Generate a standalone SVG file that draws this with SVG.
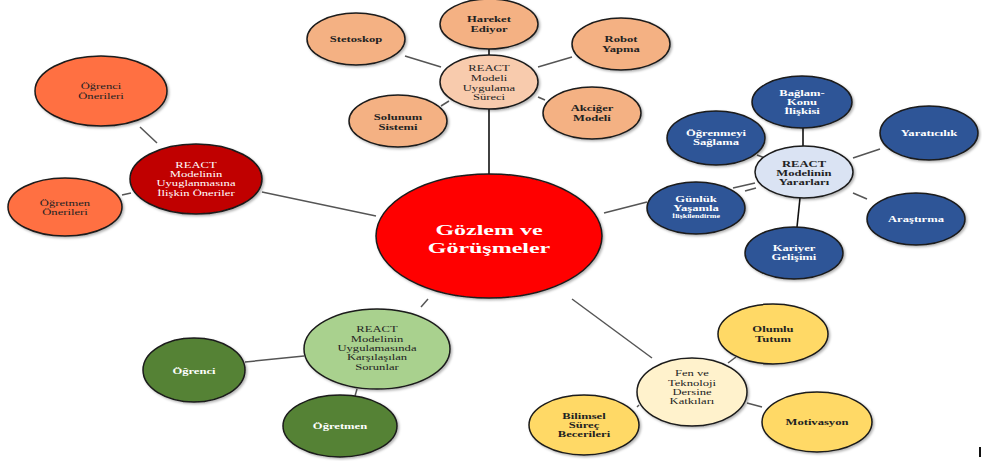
<svg xmlns="http://www.w3.org/2000/svg" width="982" height="461" viewBox="0 0 982 461">
<defs>
<filter id="sh" x="-20%" y="-20%" width="150%" height="150%">
<feDropShadow dx="1.5" dy="1.5" stdDeviation="1" flood-color="#000" flood-opacity="0.3"/>
</filter>
</defs>
<style>
ellipse{stroke:#1a1a1a;stroke-width:1.5;filter:url(#sh)}
text{font-family:"Liberation Serif","Times New Roman",serif;text-anchor:middle;dominant-baseline:central;font-size:12.6px;font-weight:bold;fill:#222;transform-box:fill-box;transform-origin:center;transform:scaleY(0.68)}
.w{fill:#fff}
.n{font-weight:normal}
.big{font-size:24px;transform:scaleY(0.64)}
.c{stroke:#555;stroke-width:1.5;fill:none}
.k{stroke:#111;stroke-width:1.6;fill:none}
.o1{fill:#F4B183}.o2{fill:#F8CBAD}
.r1{fill:#FF7043}.r2{fill:#C00000}
.b1{fill:#2F5597}.b2{fill:#DAE3F3}
.g1{fill:#548235}.g2{fill:#A9D18E}
.y1{fill:#FFD966}.y2{fill:#FFF2CC}
</style>
<g id="connectors">
<line class="k" x1="489" y1="48" x2="489" y2="56"/>
<line class="k" x1="489" y1="108" x2="489" y2="175"/>
<line class="c" x1="405" y1="56" x2="441" y2="67"/>
<line class="c" x1="538" y1="67" x2="572" y2="57"/>
<line class="c" x1="441" y1="106" x2="449" y2="101"/>
<line class="c" x1="538" y1="97" x2="545" y2="100"/>
<line class="c" x1="140" y1="127" x2="157" y2="143"/>
<line class="c" x1="122" y1="195" x2="131" y2="193"/>
<line class="c" x1="262" y1="192" x2="376" y2="216"/>
<line class="c" x1="604" y1="213" x2="647" y2="202"/>
<line class="k" x1="803" y1="127" x2="803" y2="146"/>
<line class="c" x1="853" y1="158" x2="880" y2="149"/>
<line class="c" x1="757" y1="155" x2="765" y2="158"/>
<line class="c" x1="733" y1="188" x2="755" y2="183"/>
<line class="c" x1="745" y1="191" x2="756" y2="188"/>
<line class="c" x1="853" y1="193" x2="867" y2="199"/>
<line class="k" x1="800" y1="198" x2="797" y2="227"/>
<line class="c" x1="428" y1="299" x2="421" y2="307"/>
<line class="c" x1="245" y1="362" x2="304" y2="356"/>
<line class="c" x1="357" y1="389" x2="355" y2="396"/>
<line class="c" x1="572" y1="299" x2="652" y2="358"/>
<line class="c" x1="728" y1="363" x2="736" y2="357"/>
<line class="c" x1="747" y1="403" x2="762" y2="407"/>
<line class="c" x1="637" y1="407" x2="639" y2="405"/>
</g>
<g id="n-center"><ellipse cx="489" cy="236" rx="113" ry="62" fill="#FF0000"/><text class="w big" x="489" y="230">Gözlem ve</text><text class="w big" x="489" y="247">Görüşmeler</text></g>
<g id="n-surec"><ellipse class="o2" cx="489" cy="82" rx="49" ry="27"/><text class="n" x="489" y="68">REACT</text><text class="n" x="489" y="78">Modeli</text><text class="n" x="489" y="88">Uygulama</text><text class="n" x="489" y="97">Süreci</text></g>
<g id="n-hareket"><ellipse class="o1" cx="489" cy="24" rx="49" ry="25"/><text x="489" y="19">Hareket</text><text x="489" y="29">Ediyor</text></g>
<g id="n-stetoskop"><ellipse class="o1" cx="356" cy="39" rx="49" ry="26"/><text x="356" y="39">Stetoskop</text></g>
<g id="n-robot"><ellipse class="o1" cx="621" cy="44" rx="49" ry="26"/><text x="621" y="39">Robot</text><text x="621" y="49">Yapma</text></g>
<g id="n-solunum"><ellipse class="o1" cx="398" cy="121" rx="49" ry="26"/><text x="398" y="117">Solunum</text><text x="398" y="127">Sistemi</text></g>
<g id="n-akciger"><ellipse class="o1" cx="592" cy="113" rx="49" ry="26"/><text x="592" y="108">Akciğer</text><text x="592" y="118">Modeli</text></g>
<g id="n-oneriler"><ellipse class="r2" cx="196" cy="179" rx="66" ry="35"/><text class="w n" x="196" y="165">REACT</text><text class="w n" x="196" y="174">Modelinin</text><text class="w n" x="196" y="183">Uyuglanmasına</text><text class="w n" x="196" y="193">İlişkin Öneriler</text></g>
<g id="n-ogrenci-oneri"><ellipse class="r1" cx="101" cy="91" rx="66" ry="35"/><text class="n" x="101" y="86">Öğrenci</text><text class="n" x="101" y="96">Önerileri</text></g>
<g id="n-ogretmen-oneri"><ellipse class="r1" cx="65" cy="207" rx="57" ry="29"/><text class="n" x="65" y="203">Öğretmen</text><text class="n" x="65" y="212">Önerileri</text></g>
<g id="n-yararlar"><ellipse class="b2" cx="804" cy="172" rx="49" ry="26"/><text x="804" y="164">REACT</text><text x="804" y="173">Modelinin</text><text x="804" y="182">Yararları</text></g>
<g id="n-baglam"><ellipse class="b1" cx="802" cy="102" rx="50" ry="26"/><text class="w" x="802" y="93">Bağlam-</text><text class="w" x="802" y="102">Konu</text><text class="w" x="802" y="111">İlişkisi</text></g>
<g id="n-yaraticilik"><ellipse class="b1" cx="929" cy="133" rx="49" ry="27"/><text class="w" x="929" y="133">Yaratıcılık</text></g>
<g id="n-ogrenmeyi"><ellipse class="b1" cx="716" cy="138" rx="49" ry="27"/><text class="w" x="716" y="133">Öğrenmeyi</text><text class="w" x="716" y="142">Sağlama</text></g>
<g id="n-gunluk"><ellipse class="b1" cx="696" cy="208" rx="49" ry="26"/><text class="w" x="696" y="199">Günlük</text><text class="w" x="696" y="208">Yaşamla</text><text class="w" style="font-size:8px" x="696" y="216">İlişkilendirme</text></g>
<g id="n-arastirma"><ellipse class="b1" cx="916" cy="219" rx="49" ry="26"/><text class="w" x="916" y="219">Araştırma</text></g>
<g id="n-kariyer"><ellipse class="b1" cx="794" cy="253" rx="49" ry="26"/><text class="w" x="794" y="248">Kariyer</text><text class="w" x="794" y="257">Gelişimi</text></g>
<g id="n-sorunlar"><ellipse class="g2" cx="377" cy="349" rx="73" ry="40"/><text class="n" x="377" y="329">REACT</text><text class="n" x="377" y="339">Modelinin</text><text class="n" x="377" y="348">Uygulamasında</text><text class="n" x="377" y="357">Karşılaşılan</text><text class="n" x="377" y="367">Sorunlar</text></g>
<g id="n-ogrenci"><ellipse class="g1" cx="194" cy="370" rx="51" ry="32"/><text class="w" x="194" y="371">Öğrenci</text></g>
<g id="n-ogretmen"><ellipse class="g1" cx="340" cy="426" rx="57" ry="31"/><text class="w" x="340" y="426">Öğretmen</text></g>
<g id="n-fen"><ellipse class="y2" cx="692" cy="392" rx="55" ry="34"/><text class="n" x="692" y="373">Fen ve</text><text class="n" x="692" y="383">Teknoloji</text><text class="n" x="692" y="392">Dersine</text><text class="n" x="692" y="401">Katkıları</text></g>
<g id="n-olumlu"><ellipse class="y1" cx="773" cy="334" rx="55" ry="30"/><text x="773" y="329">Olumlu</text><text x="773" y="339">Tutum</text></g>
<g id="n-motivasyon"><ellipse class="y1" cx="817" cy="422" rx="55" ry="30"/><text x="817" y="422">Motivasyon</text></g>
<g id="n-bilimsel"><ellipse class="y1" cx="584" cy="425" rx="55" ry="30"/><text x="584" y="416">Bilimsel</text><text x="584" y="425">Süreç</text><text x="584" y="434">Becerileri</text></g>
<rect x="979" y="447" width="2" height="10" fill="#111"/>
</svg>
